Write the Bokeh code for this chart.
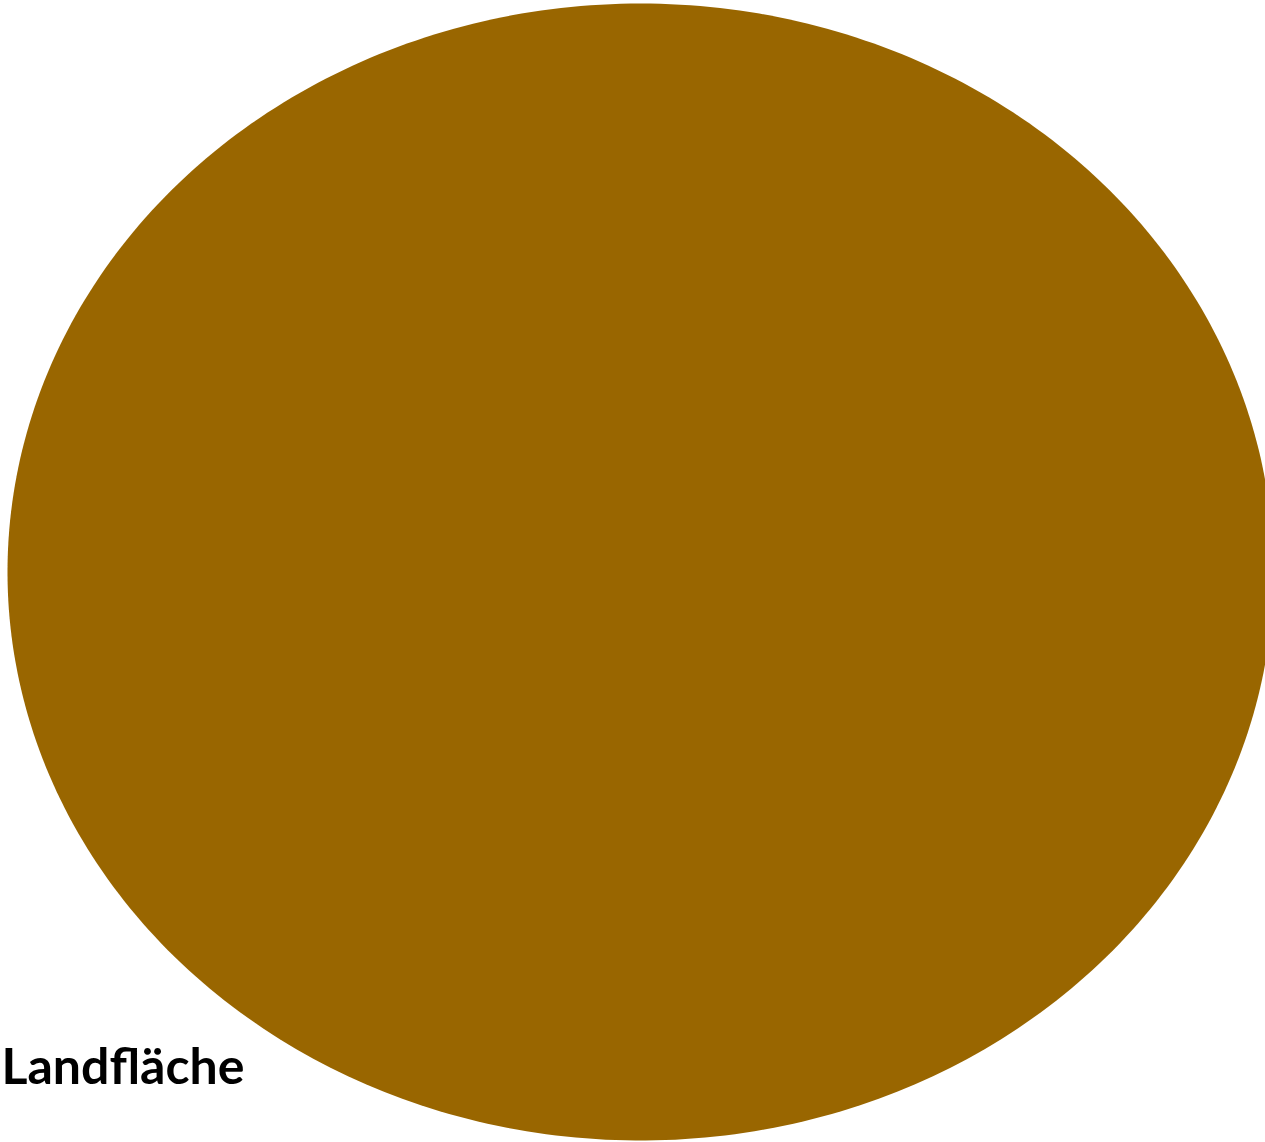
import numpy as np
from bokeh.plotting import figure
from bokeh.models import Range1d, ColumnDataSource
from bokeh.core.properties import value
from bokeh.embed import file_html
from bokeh.resources import INLINE

# Data
categories = ["Landfläche"]
values = [100]
colors = ["#996600"]

W, H = 1265, 1142
p = figure(width=W, height=H, output_backend="svg", toolbar_location=None,
           x_range=Range1d(0, W), y_range=Range1d(H, 0), min_border=0)
p.axis.visible = False
p.grid.visible = False
p.outline_line_color = None
p.background_fill_color = "white"
p.border_fill_color = "white"

cx, cy, rx, ry = 640, 571.5, 633, 568.5
total = float(sum(values))
start = -np.pi / 2
for cat, v, c in zip(categories, values, colors):
    end = start + 2 * np.pi * v / total
    t = np.linspace(start, end, 400)
    if v < total:
        xs = np.concatenate([[cx], cx + rx * np.cos(t), [cx]])
        ys = np.concatenate([[cy], cy + ry * np.sin(t), [cy]])
    else:
        xs = cx + rx * np.cos(t)
        ys = cy + ry * np.sin(t)
    p.patch(xs, ys, fill_color=c, line_color=None)
    start = end

src = ColumnDataSource(dict(x=[1], y=[1064], t=categories))
p.text(x="x", y="y", text="t", source=src, text_font=value("Lato"),
       text_font_size="50px", text_font_style="bold", text_color="#000000",
       text_baseline="alphabetic", text_align="left")

html = file_html(p, INLINE)
html = html.replace("<body>", "<body style=\"margin:0\">", 1)
open("out.html", "w").write(html)
